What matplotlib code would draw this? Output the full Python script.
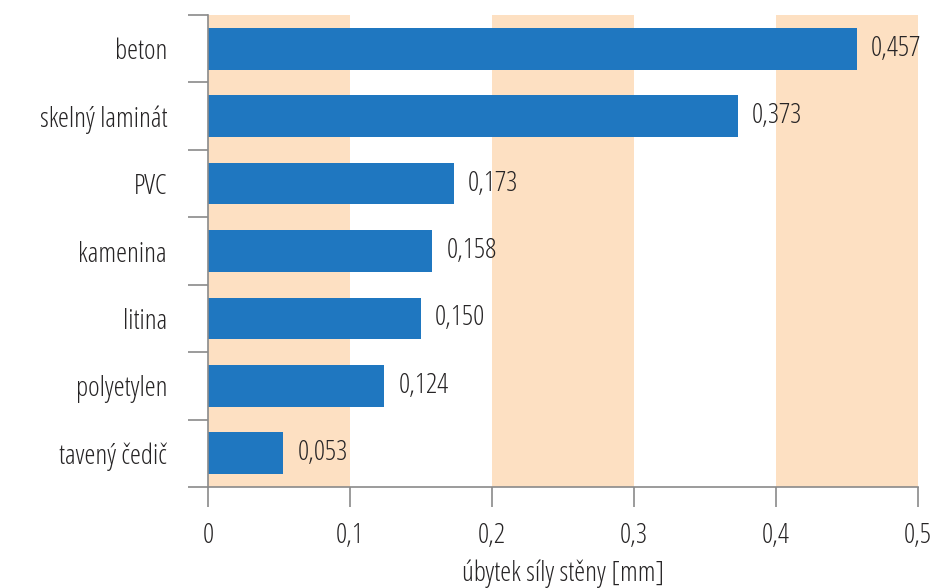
import numpy as np
import matplotlib
matplotlib.use('Agg')
import matplotlib.pyplot as plt

materials = ['beton', 'skelný laminát', 'PVC', 'kamenina', 'litina',
             'polyetylen', 'tavený čedič']
values = [0.457, 0.373, 0.173, 0.158, 0.150, 0.124, 0.053]
xticks = [0, 0.1, 0.2, 0.3, 0.4, 0.5]
bands = [(0.0, 0.1), (0.2, 0.3), (0.4, 0.5)]

plt.rcParams['font.family'] = ['Open Sans', 'DejaVu Sans']
plt.rcParams['font.stretch'] = 'condensed'
plt.rcParams['font.weight'] = 500

bar_color = '#1f77c0'
band_color = '#fde0c2'
text_color = '#262425'
axis_color = '#8a8a8a'
fs = 20

fig = plt.figure(figsize=(9.34, 5.88), dpi=100)
ax = fig.add_axes([208/934, 1 - 487/588, 710/934, 472/588])

n = len(materials)
ypos = np.arange(n)
for lo, hi in bands:
    ax.axvspan(lo, hi, color=band_color, lw=0, zorder=0)

ax.barh(ypos, values, height=0.62, color=bar_color, zorder=2)
for y, v in zip(ypos, values):
    ax.text(v + 0.01, y, f'{v:.3f}'.replace('.', ','), va='center', ha='left',
            fontsize=fs, color=text_color, zorder=3)

ax.set_xlim(0, 0.5)
ax.set_ylim(n - 0.5, -0.5)
ax.set_yticks(ypos)
ax.set_yticklabels(materials, fontsize=fs, color=text_color)
ax.set_yticks(np.arange(n + 1) - 0.5, minor=True)
ax.tick_params(axis='y', which='major', length=0, pad=29.5)
ax.tick_params(axis='y', which='minor', length=14.4, width=1.2, color=axis_color)
ax.set_xticks(xticks)
ax.set_xticklabels([('%g' % t).replace('.', ',') for t in xticks],
                   fontsize=fs, color=text_color)
ax.tick_params(axis='x', length=14.4, width=1.2, color=axis_color, pad=11)
ax.set_xlabel('úbytek síly stěny [mm]', fontsize=fs, color=text_color, labelpad=7)

for s in ['top', 'right']:
    ax.spines[s].set_visible(False)
for s in ['left', 'bottom']:
    ax.spines[s].set_color(axis_color)
    ax.spines[s].set_linewidth(1.2)

fig.savefig('out.png', dpi=100)
